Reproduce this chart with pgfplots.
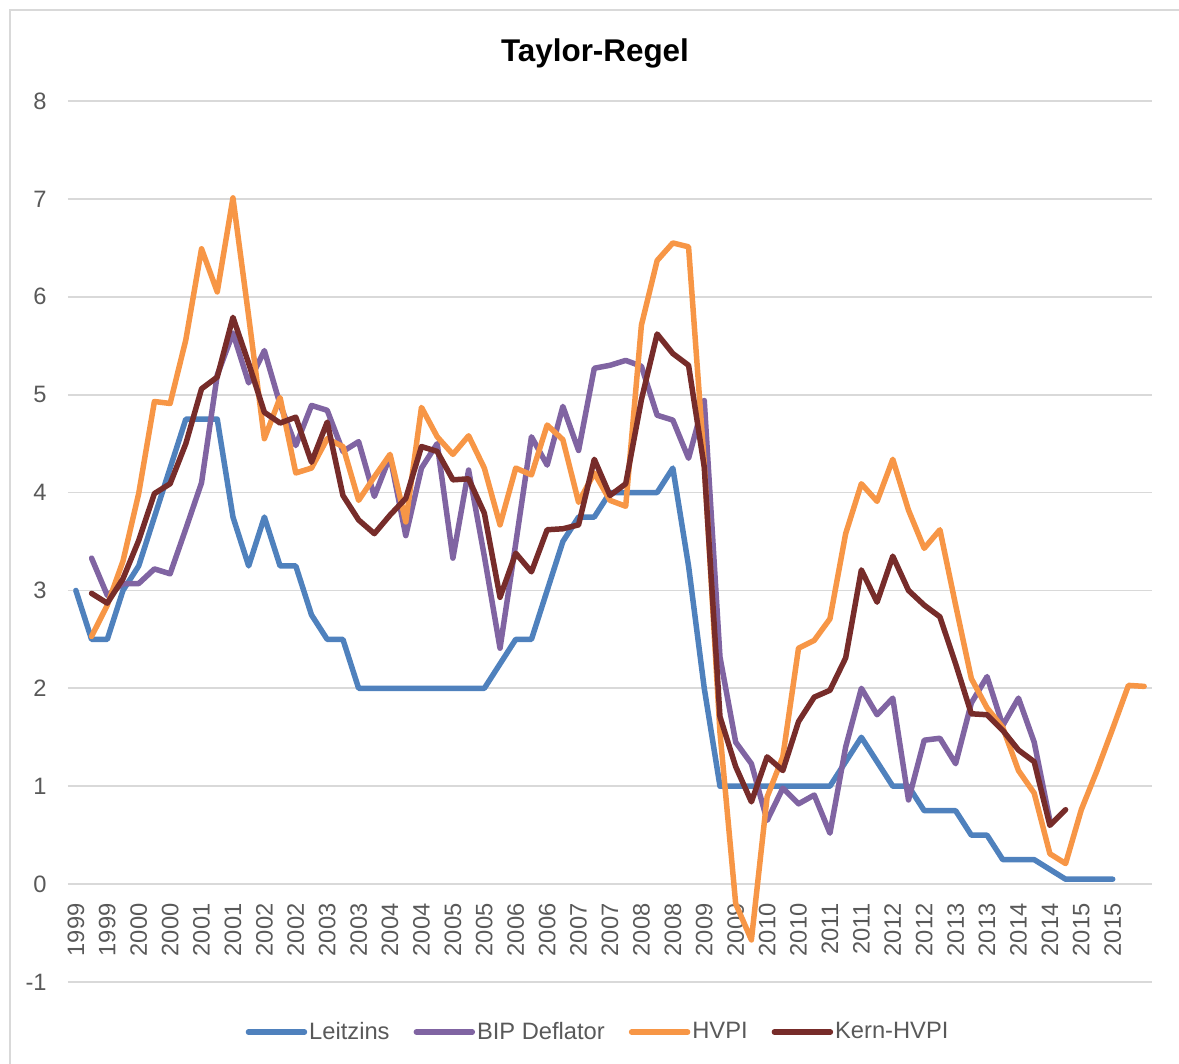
\documentclass[border=0pt]{standalone}
\usepackage{fontspec}
\setmainfont{Liberation Sans}
\usepackage{pgfplots}
\usepackage{pgfplotstable}
\pgfplotsset{compat=1.18}
\definecolor{cLeit}{HTML}{4F81BD}
\definecolor{cBIP}{HTML}{8064A2}
\definecolor{cHVPI}{HTML}{F79646}
\definecolor{cKern}{HTML}{772C2A}
\definecolor{cGrid}{HTML}{D9D9D9}
\definecolor{cText}{HTML}{595959}

\pgfplotstableread{
k v
0 3.0
1 2.5
2 2.5
3 3.0
4 3.25
5 3.75
6 4.25
7 4.75
8 4.75
9 4.75
10 3.75
11 3.25
12 3.75
13 3.25
14 3.25
15 2.75
16 2.5
17 2.5
18 2.0
19 2.0
20 2.0
21 2.0
22 2.0
23 2.0
24 2.0
25 2.0
26 2.0
27 2.25
28 2.5
29 2.5
30 3.0
31 3.5
32 3.75
33 3.75
34 4.0
35 4.0
36 4.0
37 4.0
38 4.25
39 3.25
40 2.0
41 1.0
42 1.0
43 1.0
44 1.0
45 1.0
46 1.0
47 1.0
48 1.0
49 1.25
50 1.5
51 1.25
52 1.0
53 1.0
54 0.75
55 0.75
56 0.75
57 0.5
58 0.5
59 0.25
60 0.25
61 0.25
62 0.15
63 0.05
64 0.05
65 0.05
66 0.05
}\tabLeitzins

\pgfplotstableread{
k v
1 3.33
2 2.95
3 3.07
4 3.07
5 3.22
6 3.17
7 3.63
8 4.10
9 5.20
10 5.63
11 5.12
12 5.45
13 4.90
14 4.48
15 4.89
16 4.84
17 4.42
18 4.52
19 3.96
20 4.37
21 3.56
22 4.25
23 4.50
24 3.33
25 4.23
26 3.35
27 2.41
28 3.48
29 4.57
30 4.28
31 4.88
32 4.43
33 5.27
34 5.30
35 5.35
36 5.29
37 4.79
38 4.74
39 4.35
40 4.94
41 2.32
42 1.45
43 1.23
44 0.65
45 0.98
46 0.82
47 0.91
48 0.52
49 1.40
50 2.00
51 1.73
52 1.90
53 0.86
54 1.47
55 1.49
56 1.23
57 1.85
58 2.12
59 1.62
60 1.90
61 1.45
62 0.65
}\tabBIP

\pgfplotstableread{
k v
1 2.53
2 2.85
3 3.30
4 3.99
5 4.93
6 4.91
7 5.56
8 6.49
9 6.05
10 7.01
11 5.80
12 4.55
13 4.97
14 4.20
15 4.25
16 4.55
17 4.47
18 3.92
19 4.16
20 4.39
21 3.70
22 4.87
23 4.57
24 4.39
25 4.58
26 4.25
27 3.67
28 4.25
29 4.18
30 4.69
31 4.54
32 3.90
33 4.20
34 3.92
35 3.86
36 5.71
37 6.37
38 6.55
39 6.51
40 4.30
41 1.55
42 -0.20
43 -0.57
44 0.89
45 1.30
46 2.41
47 2.49
48 2.71
49 3.58
50 4.09
51 3.91
52 4.34
53 3.82
54 3.43
55 3.62
56 2.85
57 2.10
58 1.80
59 1.60
60 1.16
61 0.93
62 0.31
63 0.21
64 0.76
65 1.16
66 1.59
67 2.03
68 2.02
}\tabHVPI

\pgfplotstableread{
k v
1 2.97
2 2.87
3 3.12
4 3.51
5 3.99
6 4.09
7 4.50
8 5.06
9 5.18
10 5.79
11 5.32
12 4.82
13 4.71
14 4.77
15 4.31
16 4.72
17 3.97
18 3.72
19 3.58
20 3.77
21 3.94
22 4.47
23 4.42
24 4.13
25 4.14
26 3.79
27 2.93
28 3.38
29 3.19
30 3.62
31 3.63
32 3.67
33 4.34
34 3.97
35 4.09
36 4.95
37 5.62
38 5.42
39 5.30
40 4.26
41 1.71
42 1.20
43 0.84
44 1.30
45 1.16
46 1.66
47 1.91
48 1.98
49 2.31
50 3.21
51 2.88
52 3.35
53 3.00
54 2.85
55 2.73
56 2.25
57 1.74
58 1.73
59 1.57
60 1.37
61 1.25
62 0.60
63 0.76
}\tabKernHVPI

\begin{document}
\begin{tikzpicture}
\path[use as bounding box] (-34pt,-41pt) rectangle (555.5pt,491pt);
\draw[cGrid, line width=0.9pt] (-29pt,-41pt) -- (-29pt,486pt) -- (555.5pt,486pt);
\begin{axis}[
  at={(0pt,0pt)}, anchor=south west,
  scale only axis, width=542pt, height=440.5pt,
  xmin=-0.5, xmax=68.5, ymin=-1, ymax=8,
  axis line style={draw=none},
  major tick length=0pt,
  ytick={-1,0,...,8},
  ymajorgrids, grid style={cGrid, line width=0.9pt},
  xtick={0,2,...,66},
  xticklabels={1999,1999,2000,2000,2001,2001,2002,2002,2003,2003,2004,2004,2005,2005,2006,2006,2007,2007,2008,2008,2009,2009,2010,2010,2011,2011,2012,2012,2013,2013,2014,2014,2015,2015},
  /pgf/number format/assume math mode=true,
  tick label style={font=\fontsize{11.85}{14}\selectfont, text=cText},
  yticklabel style={anchor=east, inner sep=0pt, xshift=-10.5pt},
  xticklabel style={yshift=39.45pt, rotate=90, anchor=east, inner sep=0pt},
  legend columns=4,
  legend style={draw=none, fill=none, at={(0.489,-0.0568)}, anchor=center,
    font=\fontsize{11.85}{14}\selectfont, text=cText,
    /tikz/every even column/.append style={column sep=11pt},
    nodes={inner sep=1pt}},
  legend image code/.code={\draw[#1, line cap=round] (0pt,0pt) -- (28pt,0pt);},
  every axis plot/.append style={line width=2.75pt, line join=round, line cap=round, mark=none},
]
\addplot[cLeit] table[x=k, y=v] {\tabLeitzins};
\addlegendentry{Leitzins}
\addplot[cBIP] table[x=k, y=v] {\tabBIP};
\addlegendentry{BIP Deflator}
\addplot[cHVPI] table[x=k, y=v] {\tabHVPI};
\addlegendentry{HVPI}
\addplot[cKern] table[x=k, y=v] {\tabKernHVPI};
\addlegendentry{Kern-HVPI}
\end{axis}
\node[anchor=base, font=\bfseries\fontsize{15.7}{18}\selectfont] at (263.5pt,460pt) {Taylor-Regel};
\end{tikzpicture}
\end{document}
